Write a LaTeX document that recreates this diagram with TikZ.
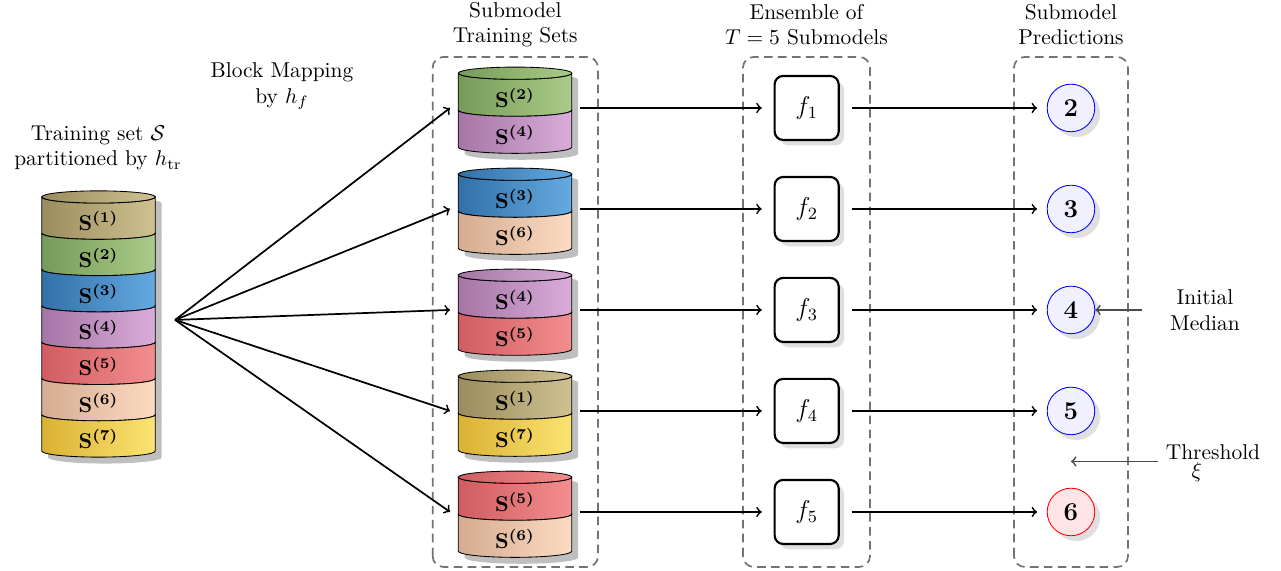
\documentclass[tikz,border=0pt]{standalone}
\usepackage{amsmath}
\usetikzlibrary{shadows,calc}

% partition colours (dark left / light right)
\definecolor{oneL}{RGB}{155,140,95}
\definecolor{oneR}{RGB}{207,194,144}
\definecolor{twoL}{RGB}{118,155,88}
\definecolor{twoR}{RGB}{170,203,137}
\definecolor{threeL}{RGB}{50,112,168}
\definecolor{threeR}{RGB}{100,170,224}
\definecolor{fourL}{RGB}{165,118,165}
\definecolor{fourR}{RGB}{218,172,218}
\definecolor{fiveL}{RGB}{208,92,98}
\definecolor{fiveR}{RGB}{243,142,142}
\definecolor{sixL}{RGB}{212,172,145}
\definecolor{sixR}{RGB}{252,219,194}
\definecolor{sevenL}{RGB}{218,178,52}
\definecolor{sevenR}{RGB}{252,227,114}

\newcommand{\cylrx}{0.93}
\newcommand{\cylry}{0.1}

\tikzset{
  cylshadow/.style={fill=black!25, xshift=3pt, yshift=-3pt},
  seglabel/.style={font=\normalsize\boldmath, inner sep=0pt},
  holder/.style={inner sep=0pt, outer sep=0pt, minimum height=1cm},
  fbox/.style={draw, fill=white, line width=1pt, rounded corners=4pt,
    minimum size=1.05cm, outer sep=6pt, font=\large,
    drop shadow={shadow xshift=2.5pt, shadow yshift=-2.5pt, opacity=0.25}},
  pred/.style={circle, draw=blue, fill=blue!6, thin, minimum size=0.78cm,
    inner sep=0pt, font=\large\bfseries,
    drop shadow={shadow xshift=2.5pt, shadow yshift=-2.5pt, opacity=0.25}},
  predout/.style={pred, draw=red, fill=red!10},
  groupbox/.style={draw=black!55, line width=0.8pt, dash pattern=on 4pt off 2.5pt,
    rounded corners=5pt},
  title/.style={align=center},
  arr/.style={->, thick},
  sidearr/.style={->, thick, black!70}
}

% #1 x centre, #2 y of top ellipse, #3 segment height, #4 list label/colour
\newcommand{\cylstack}[4]{%
  \foreach \lab/\col [count=\k] in {#4}{
    \pgfmathsetmacro{\cyTop}{#2-(\k-1)*#3}
    \pgfmathsetmacro{\cyBot}{#2-\k*#3}
    \fill[cylshadow] ({#1-\cylrx},\cyTop) -- ({#1-\cylrx},\cyBot)
      arc[start angle=180, end angle=360, x radius=\cylrx, y radius=\cylry]
      -- ({#1+\cylrx},\cyTop)
      arc[start angle=0, end angle=180, x radius=\cylrx, y radius=\cylry] -- cycle;
  }
  \foreach \lab/\col [count=\k] in {#4}{
    \pgfmathsetmacro{\cyTop}{#2-(\k-1)*#3}
    \pgfmathsetmacro{\cyBot}{#2-\k*#3}
    \path[draw=black, thin, left color=\col L, right color=\col R]
      ({#1-\cylrx},\cyTop) -- ({#1-\cylrx},\cyBot)
      arc[start angle=180, end angle=360, x radius=\cylrx, y radius=\cylry]
      -- ({#1+\cylrx},\cyTop)
      arc[start angle=0, end angle=-180, x radius=\cylrx, y radius=\cylry] -- cycle;
    \ifnum\k=1
      \path[draw=black, thin, left color=\col L, right color=\col R]
        (#1,#2) ellipse[x radius=\cylrx, y radius=\cylry];
    \fi
    \node[seglabel] at (#1,{(\cyTop+\cyBot)/2-\cylry}) {$\mathbf{S}^{(\lab)}$};
  }
}

\begin{document}
\begin{tikzpicture}
  \useasboundingbox (0,0) rectangle (21,9.36);

  % full training set
  \node[title] (traintitle) at (1.607,6.934)
    {Training set $\mathcal{S}$\\partitioned by $h_{\mathrm{tr}}$};
  \cylstack{1.615}{6.131}{0.595}{1/one,2/two,3/three,4/four,5/five,6/six,7/seven}
  \node[holder, minimum width=2.51cm] (train) at (1.615,4.115) {};

  \node[title] (maptitle) at (4.623,7.951) {Block Mapping\\by $h_f$};

  % submodel training sets
  \draw[groupbox] (7.093,0.066) rectangle (9.803,8.426);
  \node[title] (subtitle) at (8.448,8.955) {Submodel\\Training Sets};
  \cylstack{8.443}{8.160}{0.607}{2/two,4/four}
  \cylstack{8.443}{6.504}{0.607}{3/three,6/six}
  \cylstack{8.443}{4.849}{0.607}{4/four,5/five}
  \cylstack{8.443}{3.193}{0.607}{1/one,7/seven}
  \cylstack{8.443}{1.537}{0.607}{5/five,6/six}
  \node[holder, minimum width=2.13cm] (sub1) at (8.443,7.590) {};
  \node[holder, minimum width=2.13cm] (sub2) at (8.443,5.934) {};
  \node[holder, minimum width=2.13cm] (sub3) at (8.443,4.279) {};
  \node[holder, minimum width=2.13cm] (sub4) at (8.443,2.623) {};
  \node[holder, minimum width=2.13cm] (sub5) at (8.443,0.967) {};

  % ensemble
  \draw[groupbox] (12.180,0.066) rectangle (14.262,8.426);
  \node[title] (enstitle) at (13.221,8.955) {Ensemble of\\$T=5$ Submodels};
  \node[fbox] (f1) at (13.224,7.590) {$f_1$};
  \node[fbox] (f2) at (13.224,5.934) {$f_2$};
  \node[fbox] (f3) at (13.224,4.279) {$f_3$};
  \node[fbox] (f4) at (13.224,2.623) {$f_4$};
  \node[fbox] (f5) at (13.224,0.967) {$f_5$};

  % predictions
  \draw[groupbox] (16.623,0.066) rectangle (18.491,8.426);
  \node[title] (predtitle) at (17.557,8.955) {Submodel\\Predictions};
  \node[pred] (p1) at (17.557,7.590) {2};
  \node[pred] (p2) at (17.557,5.934) {3};
  \node[pred] (p3) at (17.557,4.279) {4};
  \node[pred] (p4) at (17.557,2.623) {5};
  \node[predout] (p5) at (17.557,0.967) {6};

  \foreach \i in {1,...,5}{
    \draw[arr] (train.east) -- (sub\i.west);
    \draw[arr] (sub\i.east) -- (f\i.west);
    \draw[arr, shorten >=4.5pt] (f\i.east) -- (p\i.west);
  }

  \node[title] (median) at (19.754,4.279) {Initial\\Median};
  \draw[sidearr, shorten <=9.6pt] (median.west) -- (p3.east);

  \node[title] (thr) at (19.885,1.77) {Threshold\\[-3.5pt]$\xi$\hspace*{15pt}};
  \coordinate (thrmid) at ($(p4)!0.5!(p5)$);
  \draw[sidearr] (thrmid -| thr.west) -- (thrmid);
\end{tikzpicture}
\end{document}
